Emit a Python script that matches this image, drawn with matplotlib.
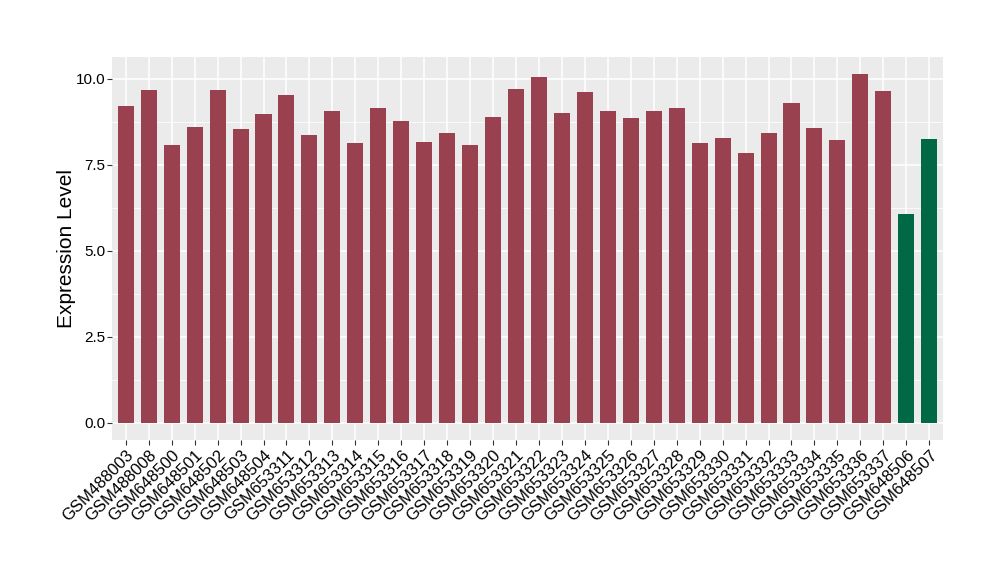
import matplotlib
matplotlib.use("Agg")
import matplotlib.pyplot as plt
from matplotlib.ticker import MultipleLocator

samples = ["GSM488003", "GSM488008", "GSM648500", "GSM648501", "GSM648502", "GSM648503",
           "GSM648504", "GSM653311", "GSM653312", "GSM653313", "GSM653314", "GSM653315",
           "GSM653316", "GSM653317", "GSM653318", "GSM653319", "GSM653320", "GSM653321",
           "GSM653322", "GSM653323", "GSM653324", "GSM653325", "GSM653326", "GSM653327",
           "GSM653328", "GSM653329", "GSM653330", "GSM653331", "GSM653332", "GSM653333",
           "GSM653334", "GSM653335", "GSM653336", "GSM653337", "GSM648506", "GSM648507"]
values = [9.20, 9.67, 8.07, 8.59, 9.67, 8.53, 8.97, 9.52, 8.36, 9.06, 8.13, 9.15,
          8.77, 8.16, 8.42, 8.07, 8.88, 9.70, 10.05, 9.00, 9.61, 9.06, 8.86, 9.06,
          9.15, 8.13, 8.28, 7.84, 8.42, 9.29, 8.57, 8.22, 10.13, 9.64, 6.07, 8.25]
groups = ["a"] * 34 + ["b"] * 2
group_colors = {"a": "#9A4150", "b": "#006845"}

plt.rcParams['font.family'] = ['Liberation Sans', 'DejaVu Sans']

fig = plt.figure(figsize=(10, 5.8), dpi=100)
ax = fig.add_axes([0.112, 0.2414, 0.831, 0.6603])
ax.set_facecolor("#EBEBEB")

x = list(range(len(samples)))
ax.bar(x, values, width=0.7, color=[group_colors[g] for g in groups], zorder=3)

ax.set_xlim(-0.6, len(samples) - 0.4)
ymax = max(values)
ax.set_ylim(-0.05 * ymax, ymax * 1.05)
ax.yaxis.set_minor_locator(MultipleLocator(1.25))
ax.set_yticks([0, 2.5, 5, 7.5, 10])
ax.set_yticklabels(["0.0", "2.5", "5.0", "7.5", "10.0"])
ax.set_xticks(x)
ax.set_xticklabels(samples, rotation=45, ha="right", rotation_mode="anchor")

ax.grid(which="major", color="white", linewidth=1.1, zorder=0)
ax.grid(which="minor", axis="y", color="white", linewidth=0.55, zorder=0)
ax.set_axisbelow(True)
for s in ax.spines.values():
    s.set_visible(False)
ax.tick_params(axis="both", which="major", length=3.5, width=0.8, color="#333333",
               labelcolor="black", pad=2)
ax.tick_params(axis="x", labelsize=12)
ax.tick_params(axis="y", labelsize=11, pad=1.5)
ax.tick_params(axis="y", which="minor", length=0)
ax.set_ylabel("Expression Level", fontsize=15, labelpad=-0.5)

fig.savefig("out.png", dpi=100)
